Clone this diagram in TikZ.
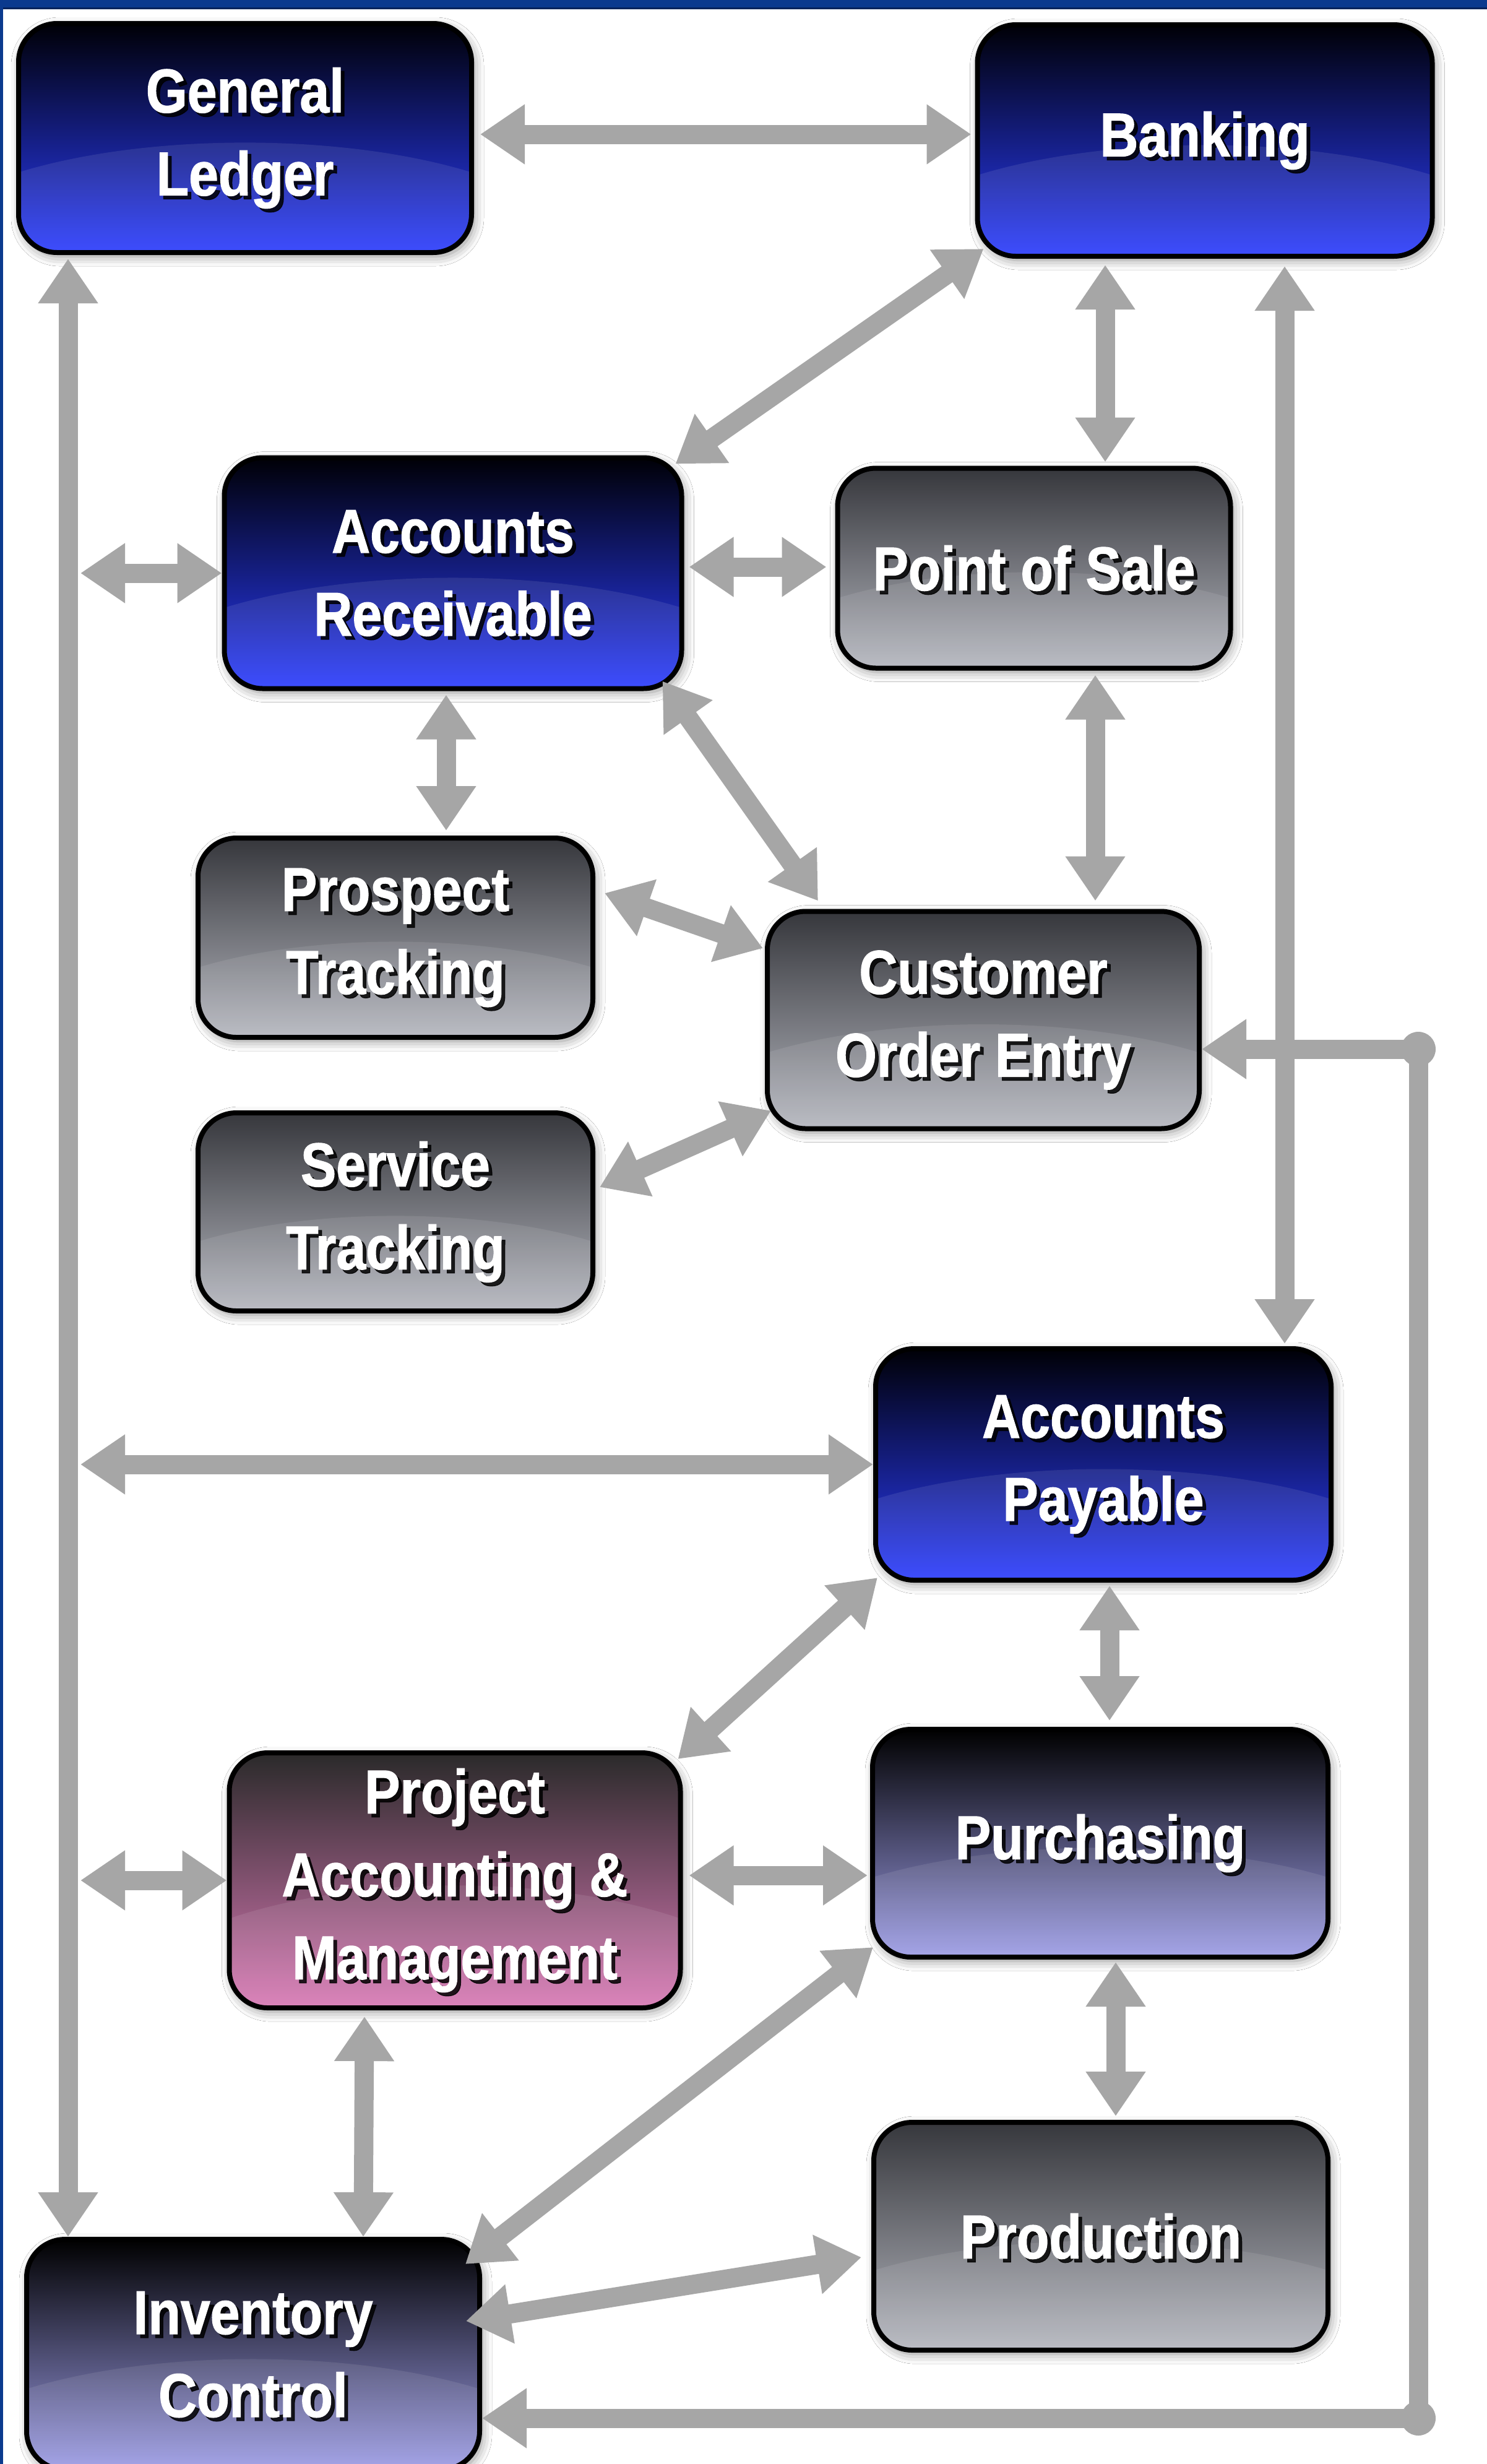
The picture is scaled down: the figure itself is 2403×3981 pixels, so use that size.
\documentclass[tikz,border=0pt]{standalone}
\usepackage{fontspec}
\setmainfont{Liberation Sans}[FakeStretch=0.86, BoldFeatures={FakeBold=1.2}]
\usetikzlibrary{arrows.meta,calc,shadows.blur}
\definecolor{arrowgray}{HTML}{A6A6A6}
\definecolor{framebl}{HTML}{0B3A8E}
\definecolor{framedk}{HTML}{06245C}
\definecolor{bluetop}{HTML}{000006}
\definecolor{bluemid}{HTML}{080C5A}
\definecolor{bluebot}{HTML}{2A3CFF}
\definecolor{graytop}{HTML}{36373C}
\definecolor{graymid}{HTML}{6A6C72}
\definecolor{graybot}{HTML}{B4B6BE}
\definecolor{navytop}{HTML}{000000}
\definecolor{navymid}{HTML}{2A2948}
\definecolor{navybot}{HTML}{9C9CE6}
\definecolor{pinktop}{HTML}{2A2A2A}
\definecolor{pinkmid}{HTML}{5C3C56}
\definecolor{pinkbot}{HTML}{D878B4}
\tikzset{
  sysbase/.style={rectangle, rounded corners=62pt, draw=black, line width=8pt,
    blur shadow={shadow xshift=4pt, shadow yshift=-6pt, shadow blur radius=16pt, shadow opacity=45}},
  bluebox/.style={top color=bluetop, middle color=bluemid, bottom color=bluebot},
  graybox/.style={top color=graytop, middle color=graymid, bottom color=graybot},
  navybox/.style={top color=navytop, middle color=navymid, bottom color=navybot},
  pinkbox/.style={top color=pinktop, middle color=pinkmid, bottom color=pinkbot},
  txtmain/.style={text=white, align=center, inner sep=0pt,
    font=\fontsize{100pt}{134pt}\selectfont\bfseries},
  txtshadow/.style={txtmain, text=black, text opacity=0.85},
  wire/.style={draw=arrowgray, line width=31pt},
  conn/.style={wire, {Triangle[length=72pt,width=92pt]}-{Triangle[length=72pt,width=92pt]}},
  connone/.style={wire, -{Triangle[length=72pt,width=92pt]}},
}
\newcommand\sysbox[7]{%
  \pgfmathsetmacro\glrx{0.75*#5}%
  \pgfmathsetmacro\glry{0.51*#6}%
  \pgfmathsetmacro\gldy{0.03*#6}%
  \node[sysbase,#2,minimum width=#5pt,minimum height=#6pt,
    path picture={\fill[white,fill opacity=0.09] ([yshift=-\gldy pt]path picture bounding box.south) ellipse [x radius=\glrx pt, y radius=\glry pt];}]
    (#1) at (#3,#4) {};
  \node[txtshadow] (#1-s) at ([xshift=6pt,yshift=-6pt]#1.center) {#7};
  \node[txtmain] (#1-t) at (#1.center) {#7};
}
\begin{document}
\begin{tikzpicture}[x=1pt,y=-1pt]
\useasboundingbox (0,0) rectangle (2403,3981);
\fill[white] (0,0) rectangle (2403,3981);
% frame
\fill[framebl] (0,0) rectangle (2403,13);
\fill[framedk] (0,12) rectangle (2403,15);
\fill[framebl] (0,0) rectangle (5,3981);

% boxes
\sysbox{gl}{bluebox}{396}{223}{732}{370}{General\\Ledger}
\sysbox{bank}{bluebox}{1947}{227}{735}{374}{Banking}
\sysbox{ar}{bluebox}{732}{926}{739}{373}{Accounts\\Receivable}
\sysbox{pos}{graybox}{1671}{918}{635}{323}{Point of Sale}
\sysbox{pt}{graybox}{639}{1515}{638}{322}{Prospect\\Tracking}
\sysbox{coe}{graybox}{1589}{1648}{698}{351}{Customer\\Order Entry}
\sysbox{st}{graybox}{639}{1958}{638}{320}{Service\\Tracking}
\sysbox{ap}{bluebox}{1783}{2366}{736}{374}{Accounts\\Payable}
\sysbox{pam}{pinkbox}{735}{3038}{729}{412}{Project\\Accounting \&\\Management}
\sysbox{pu}{navybox}{1778}{2978}{736}{368}{Purchasing}
\sysbox{pr}{graybox}{1779}{3613}{734}{368}{Production}
\sysbox{ic}{navybox}{409}{3804}{732}{372}{Inventory\\Control}

% bus coordinates
\coordinate (bus) at (130,0);
\coordinate (loopA) at (2292,1695);
\coordinate (loopB) at (2292,3907);

% connectors
\draw[conn] ([xshift=10pt,yshift=6pt]gl.east) -- ([xshift=-6pt,yshift=10pt]bank.west);
\draw[conn] ([xshift=84pt,yshift=-6pt]gl.south west) -- ([xshift=71pt]ic.north west);
\draw[conn] (bus |- ar.west) -- (ar.west);
\draw[conn] (bus |- ap.west) -- (ap.west);
\draw[conn] (bus |- pam.west) -- (pam.west);
\draw[conn] ([xshift=14pt,yshift=16pt]bank.south west) -- ([xshift=-14pt,yshift=-14pt]ar.north east);
\draw[conn] ([xshift=-161pt,yshift=-10pt]bank.south) -- ([xshift=115pt,yshift=6pt]pos.north);
\draw[conn] ([xshift=129pt,yshift=-12pt]bank.south) -- ([xshift=293pt,yshift=4pt]ap.north);
\draw[conn] ([xshift=8pt,yshift=10pt]ar.east) -- ([xshift=-14pt,yshift=2pt]pos.west);
\draw[conn] ([xshift=-11pt,yshift=-6pt]ar.south) -- ([xshift=82pt,yshift=8pt]pt.north);
\draw[conn] ([xshift=-35pt,yshift=16pt]ar.south east) -- ([xshift=86pt,yshift=13pt]coe.north west);
\draw[conn] ([xshift=99pt,yshift=-7pt]pos.south) -- ([xshift=181pt,yshift=13pt]coe.north);
\draw[conn] ([xshift=15pt,yshift=72pt]pt.east) -- ([xshift=-3pt,yshift=116pt]coe.west);
\draw[conn] ([xshift=7pt,yshift=40pt]st.east) -- ([xshift=10pt,yshift=33pt]coe.south west);
\draw[conn] ([xshift=7pt,yshift=8pt]ap.south west) -- ([xshift=-8pt,yshift=-14pt]pam.north east);
\draw[conn] ([xshift=10pt,yshift=-5pt]ap.south) -- ([xshift=15pt,yshift=10pt]pu.north);
\draw[conn] ([xshift=10pt,yshift=8pt]pam.east) -- ([xshift=-4pt,yshift=-52pt]pu.west);
\draw[conn] ([xshift=-146pt,yshift=-10pt]pam.south) -- ([xshift=178pt]ic.north);
\draw[conn] ([xshift=5pt,yshift=20pt]pu.south west) -- ([xshift=-27pt,yshift=-44pt]ic.north east);
\draw[conn] ([xshift=-16pt,yshift=-34pt]pr.west) -- ([xshift=-26pt,yshift=54pt]ic.east);
\draw[conn] ([xshift=25pt,yshift=-4pt]pu.south) -- ([xshift=24pt,yshift=6pt]pr.north);

% feedback loop
\draw[wire] (loopA) -- (loopB);
\draw[connone] (loopA) -- (coe.east |- loopA);
\draw[connone] (loopB) -- (ic.east |- loopB);
\fill[arrowgray] (loopA) circle [radius=28pt];
\fill[arrowgray] (loopB) circle [radius=28pt];
\end{tikzpicture}
\end{document}
